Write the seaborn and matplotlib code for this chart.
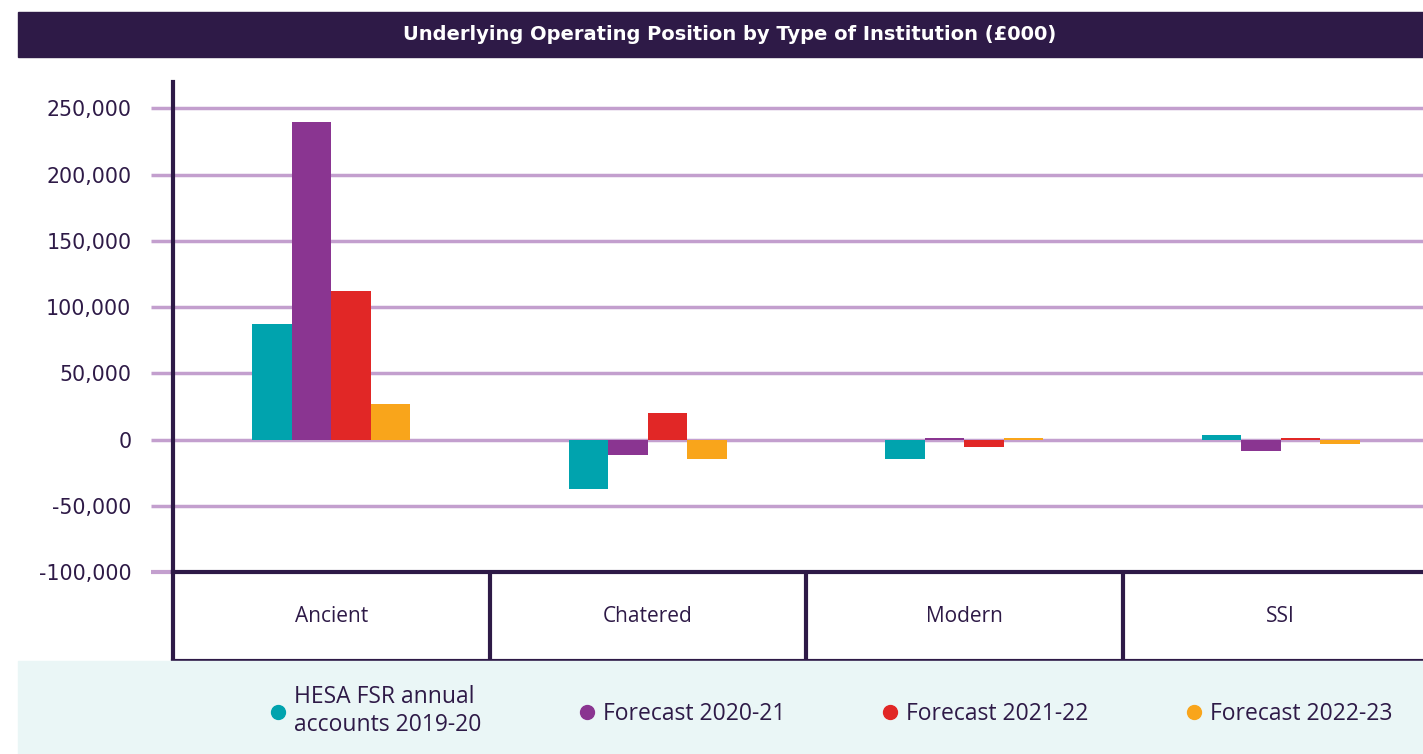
import pandas as pd
import seaborn as sns
import matplotlib.pyplot as plt
from matplotlib.lines import Line2D
from matplotlib.patches import Rectangle
from matplotlib.ticker import FuncFormatter

# data (GBP 000)
categories = ['Ancient', 'Chatered', 'Modern', 'SSI']
series = ['HESA FSR annual\naccounts 2019-20', 'Forecast 2020-21',
          'Forecast 2021-22', 'Forecast 2022-23']
hesa_2019_20 = [87500, -37500, -14300, 3800]
fc_2020_21 = [240000, -12000, 1500, -8800]
fc_2021_22 = [112500, 20300, -5300, 1200]
fc_2022_23 = [26500, -14300, 1200, -3000]
yticks = [-100000, -50000, 0, 50000, 100000, 150000, 200000, 250000]

colors = ['#00a3ae', '#8a3591', '#e12726', '#f9a51b']
dark = '#2e1a47'
grid_col = '#c39fce'

rows = []
for s, vals in zip(series, [hesa_2019_20, fc_2020_21, fc_2021_22, fc_2022_23]):
    for c, v in zip(categories, vals):
        rows.append({'type': c, 'series': s, 'value': v})
df = pd.DataFrame(rows)

sns.set_theme(style='white')
plt.rcParams['font.family'] = ['DejaVu Sans']

W, H = 1423, 754
fig = plt.figure(figsize=(W / 100, H / 100), dpi=100)
fig.patch.set_facecolor('white')

# title bar and legend band
fig.patches.append(Rectangle((18 / W, 1 - 57 / H), 1 - 18 / W, 45 / H,
                             transform=fig.transFigure, color=dark, zorder=0))
fig.patches.append(Rectangle((18 / W, 0), 1 - 18 / W, (H - 661) / H,
                             transform=fig.transFigure, color='#eaf6f6', zorder=0))
fig.text(730 / W, 1 - 35 / H, 'Underlying Operating Position by Type of Institution (£000)',
         color='white', fontsize=14, fontweight='bold', family=['DejaVu Sans'],
         ha='center', va='center')

ax = fig.add_axes([173 / W, (H - 572) / H, 1266 / W, (572 - 82) / H])
sns.barplot(data=df, x='type', y='value', hue='series', palette=colors,
            width=0.5, saturation=1, ax=ax, legend=False, errorbar=None, linewidth=0)
ax.set_xlim(-0.5, 3.5)
ax.set_ylim(-100000, 270000)
ax.set_yticks(yticks)
ax.yaxis.set_major_formatter(FuncFormatter(lambda v, p: f'{int(v):,}'))
ax.set_axisbelow(True)
ax.yaxis.grid(True, color=grid_col, linewidth=2.5)
ax.tick_params(axis='y', length=16, width=2.5, color=grid_col, pad=14,
               labelsize=14.8, labelcolor=dark, left=True)
# bottom tick sits on the axis line, drawn dark like the axis
ax.yaxis.get_major_ticks()[0].tick1line.set_color(dark)
ax.yaxis.get_major_ticks()[0].tick1line.set_markeredgewidth(3)
ax.set_xticks([])
ax.set_xlabel('')
ax.set_ylabel('')
for side in ['top', 'right']:
    ax.spines[side].set_visible(False)
for side in ['left', 'bottom']:
    ax.spines[side].set_color(dark)
    ax.spines[side].set_linewidth(3)
    ax.spines[side].set_zorder(5)

# category table under the plot
tax = fig.add_axes([173 / W, (H - 661) / H, 1266 / W, (661 - 572) / H])
tax.set_xlim(-0.5, 3.5)
tax.set_ylim(0, 1)
tax.set_xticks([])
tax.set_yticks([])
tax.patch.set_alpha(0)
for side in ['top', 'right']:
    tax.spines[side].set_visible(False)
for side in ['left', 'bottom']:
    tax.spines[side].set_color(dark)
    tax.spines[side].set_linewidth(3)
for i in range(1, len(categories)):
    tax.axvline(i - 0.5, color=dark, linewidth=3)
for i, c in enumerate(categories):
    tax.text(i, 0.5, c, ha='center', va='center', fontsize=15, color=dark,
             family=['Open Sans', 'DejaVu Sans'])

handles = [Line2D([], [], marker='o', linestyle='', markersize=10,
                  markerfacecolor=col, markeredgecolor=col) for col in colors]
leg = fig.legend(handles, series, loc='center left', bbox_to_anchor=(248 / W, 1 - 711 / H),
                 ncol=4, frameon=False, handlelength=0.8, handletextpad=0.3,
                 columnspacing=4.2, prop={'family': ['Open Sans', 'DejaVu Sans'], 'size': 16.5},
                 labelcolor=dark)

fig.savefig('out.png', dpi=100)
